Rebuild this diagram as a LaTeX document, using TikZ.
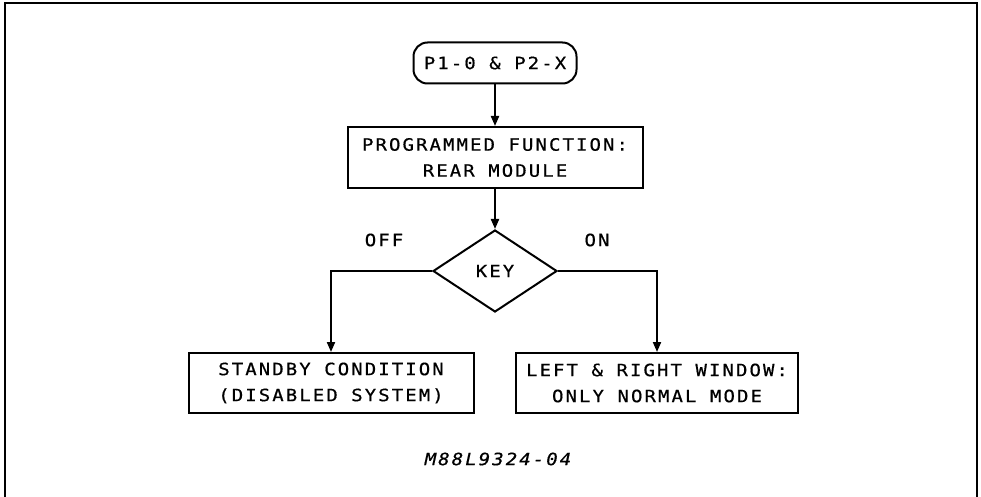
\documentclass[tikz,border=0pt]{standalone}
\usepackage{fontspec}
\usetikzlibrary{shapes.geometric,arrows.meta}
\newfontfamily\plotfont[LetterSpace=12,FakeStretch=1.12,FakeBold=0.6]{DejaVu Sans Mono}
\begin{document}
\begin{tikzpicture}[x=1pt,y=-1pt,
  every node/.style={font=\plotfont\fontsize{17}{26}\selectfont},
  ln/.style={line width=2pt},
  arr/.style={ln,-{Triangle[length=10pt,width=8pt]}},
  boxnode/.style={draw,ln,align=center,inner sep=0pt},
  lbl/.style={inner sep=0pt}]
\useasboundingbox (0,0) rectangle (981,497);
\draw[line width=1.6pt] (5,497) -- (5,3) -- (977,3) -- (977,497);
\node[boxnode,rounded corners=14pt,minimum width=163pt,minimum height=41pt] (start) at (495,63) {P1-0 \& P2-X};
\node[boxnode,minimum width=295pt,minimum height=61pt] (prog) at (495,157.5) {PROGRAMMED FUNCTION:\\REAR MODULE};
\node[boxnode,diamond,minimum width=124pt,minimum height=82pt] (key) at (495,271) {KEY};
\node[boxnode,minimum width=285pt,minimum height=60pt] (stby) at (331,383) {STANDBY CONDITION\\(DISABLED SYSTEM)};
\node[boxnode,minimum width=282pt,minimum height=60pt] (lr) at (657,383) {LEFT \& RIGHT WINDOW:\\ONLY NORMAL MODE};
\node[lbl] (off) at (384,240) {OFF};
\node[lbl] (on) at (597,240) {ON};
\node[lbl,font=\plotfont\itshape\fontsize{17}{20}\selectfont] (cap) at (498,459) {M88L9324-04};
\draw[arr] (start) -- (prog);
\draw[arr] (prog) -- (key);
\draw[arr] (key.west) -| (stby.north);
\draw[arr] (key.east) -| (lr.north);
\end{tikzpicture}
\end{document}
